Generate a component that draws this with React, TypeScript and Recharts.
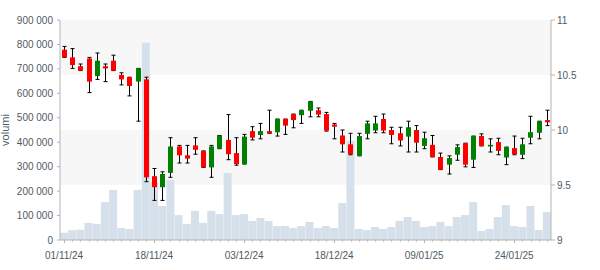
import React from 'react'
import { ComposedChart, Bar, XAxis, YAxis, CartesianGrid } from 'recharts'

// trading days shown on the category axis
const dates = [
  '01/11/24', '04/11/24', '05/11/24', '06/11/24', '07/11/24', '08/11/24',
  '11/11/24', '12/11/24', '13/11/24', '14/11/24', '15/11/24',
  '18/11/24', '19/11/24', '20/11/24', '21/11/24', '22/11/24',
  '25/11/24', '26/11/24', '27/11/24', '28/11/24', '29/11/24',
  '02/12/24', '03/12/24', '04/12/24', '05/12/24', '06/12/24',
  '09/12/24', '10/12/24', '11/12/24', '12/12/24', '13/12/24',
  '16/12/24', '17/12/24', '18/12/24', '19/12/24', '20/12/24',
  '23/12/24', '27/12/24', '30/12/24',
  '02/01/25', '03/01/25', '06/01/25', '07/01/25', '08/01/25', '09/01/25', '10/01/25',
  '13/01/25', '14/01/25', '15/01/25', '16/01/25', '17/01/25',
  '20/01/25', '21/01/25', '22/01/25', '23/01/25', '24/01/25',
  '27/01/25', '28/01/25', '29/01/25', '30/01/25',
]

const open = [
  10.73, 10.66, 10.58, 10.65, 10.49, 10.58, 10.63, 10.5, 10.48, 10.44,
  10.46, 9.58, 9.48, 9.61, 9.85, 9.77, 9.86, 9.81, 9.66, 9.83,
  9.91, 9.79, 9.69, 9.99, 9.955, 9.99, 9.98, 10.1, 10.145, 10.135,
  10.175, 10.18, 10.145, 10.05, 9.95, 9.87, 9.765, 9.965, 9.995, 10.1,
  10.0, 9.97, 9.94, 10.0, 9.855, 9.865, 9.755, 9.685, 9.775, 9.88,
  9.73, 9.945, 9.85, 9.89, 9.75, 9.835, 9.775, 9.93, 9.975, 10.09,
]
const high = [
  10.76, 10.74, 10.6, 10.66, 10.7, 10.6, 10.68, 10.52, 10.48, 10.56,
  10.48, 9.65, 9.62, 9.93, 9.86, 9.86, 9.93, 9.81, 9.86, 9.95,
  10.14, 9.93, 9.96, 10.03, 10.06, 10.18, 10.1, 10.1, 10.145, 10.18,
  10.26, 10.2, 10.16, 10.06, 10.0, 9.97, 9.97, 10.08, 10.125, 10.145,
  10.025, 10.025, 10.08, 10.04, 9.98, 9.95, 9.79, 9.765, 9.865, 9.88,
  9.945, 9.965, 9.92, 9.925, 9.845, 9.945, 9.925, 10.125, 10.08, 10.18,
]
const low = [
  10.66, 10.56, 10.54, 10.34, 10.46, 10.44, 10.54, 10.41, 10.31, 10.08,
  9.53, 9.36, 9.36, 9.57, 9.7, 9.7, 9.78, 9.66, 9.57, 9.83,
  9.73, 9.68, 9.69, 9.91, 9.92, 9.97, 9.945, 9.96, 10.02, 10.06,
  10.12, 10.12, 9.99, 9.92, 9.8, 9.775, 9.765, 9.92, 9.975, 9.975,
  9.875, 9.855, 9.8, 9.8, 9.83, 9.755, 9.64, 9.6, 9.725, 9.665,
  9.66, 9.855, 9.8, 9.775, 9.685, 9.775, 9.74, 9.875, 9.92, 10.04,
]
const close = [
  10.66, 10.59, 10.54, 10.44, 10.63, 10.56, 10.54, 10.46, 10.4, 10.56,
  9.57, 9.48, 9.6, 9.85, 9.77, 9.74, 9.82, 9.66, 9.85, 9.95,
  9.78, 9.69, 9.94, 9.93, 9.99, 9.97, 10.1, 10.04, 10.09, 10.18,
  10.26, 10.14, 9.995, 10.03, 9.87, 9.78, 9.945, 10.06, 10.06, 9.995,
  9.955, 9.905, 10.025, 9.885, 9.925, 9.755, 9.64, 9.745, 9.845, 9.685,
  9.945, 9.855, 9.865, 9.81, 9.845, 9.78, 9.87, 9.98, 10.08, 10.07,
]
const volume = [
  30000, 40000, 42000, 70000, 66000, 155000, 205000, 49000, 45000, 205000,
  807000, 238000, 139000, 245000, 102000, 66000, 119000, 70000, 119000, 106000,
  274000, 102000, 106000, 78000, 90000, 78000, 57000, 57000, 49000, 57000,
  74000, 49000, 57000, 49000, 151000, 405000, 45000, 41000, 53000, 45000,
  53000, 78000, 94000, 78000, 53000, 57000, 74000, 57000, 94000, 102000,
  155000, 37000, 45000, 94000, 143000, 57000, 53000, 139000, 41000, 115000,
]

const volTicks = [0, 100000, 200000, 300000, 400000, 500000, 600000, 700000, 800000, 900000]
const priceTicks = [9, 9.5, 10, 10.5, 11]
const labelEvery = 11

const AXIS = '#b4b4b4'
const TEXT = '#505a64'
const FONT = '"Liberation Sans", Arial, sans-serif'
const RED = '#ff0000'
const GREEN = '#008000'

const rows = dates.map((date, i) => ({
  date,
  open: open[i],
  high: high[i],
  low: low[i],
  close: close[i],
  volume: volume[i],
}))

const fmtVol = (v: number) => (v === 0 ? '0' : `${v / 1000} 000`)

function DateTick(props: any) {
  const { x, y, payload } = props
  const i = payload.index ?? props.index
  const major = i % labelEvery === 0
  const px = Math.round(x) + 0.5
  return (
    <g>
      <line x1={px} x2={px} y1={y} y2={y + (major ? 3 : 1.5)} stroke={AXIS} />
      {major && (
        <text x={x} y={y + 19} textAnchor="middle" fill={TEXT} fontSize={10} fontFamily={FONT}>
          {payload.value}
        </text>
      )}
    </g>
  )
}

function Candle(props: any) {
  const { x, y, width, height, payload } = props
  if (!payload) return null
  const { open: o, close: c, high: h, low: l } = payload
  const top = Math.min(y, y + height)
  const span = Math.abs(height)
  const k = h === l ? 0 : span / (h - l)
  const py = (v: number) => top + (h - v) * k
  const cx = Math.round(x + width / 2) + 0.5
  const up = c >= o
  const bodyTop = py(Math.max(o, c))
  const bodyH = Math.max(1.5, Math.abs(py(o) - py(c)))
  return (
    <g>
      <line x1={cx} x2={cx} y1={top} y2={top + span} stroke="#000" strokeWidth={1} />
      <line x1={cx - 2} x2={cx + 2} y1={top} y2={top} stroke="#000" strokeWidth={1} />
      <line x1={cx - 2} x2={cx + 2} y1={top + span} y2={top + span} stroke="#000" strokeWidth={1} />
      <rect x={cx - 2.5} y={bodyTop} width={5} height={bodyH} fill={up ? GREEN : RED} />
    </g>
  )
}

export default function App() {
  return (
    <div style={{ position: 'absolute', left: 0, top: 0, width: 600, height: 270, background: '#fff' }}>
      <ComposedChart
        width={600}
        height={270}
        data={rows}
        margin={{ top: 20, right: 0, bottom: 0, left: 0 }}
        barCategoryGap={0}
        barGap={0}
      >
        <CartesianGrid
          xAxisId="vol"
          yAxisId="price"
          vertical={false}
          stroke="transparent"
          horizontalFill={['#f7f7f7', '#ffffff']}
        />
        <XAxis
          xAxisId="vol"
          dataKey="date"
          interval={0}
          height={30}
          tickSize={0}
          tickMargin={0}
          tickLine={false}
          axisLine={{ stroke: AXIS }}
          tick={<DateTick />}
        />
        <XAxis xAxisId="ohlc" dataKey="date" hide height={0} />
        <YAxis
          yAxisId="vol"
          orientation="left"
          width={60}
          domain={[0, 900000]}
          ticks={volTicks}
          interval={0}
          tickFormatter={fmtVol}
          tickSize={3}
          tickMargin={4}
          axisLine={{ stroke: AXIS }}
          tickLine={{ stroke: AXIS }}
          tick={{ fill: TEXT, fontSize: 10, fontFamily: FONT }}
          label={{
            content: (p: any) => {
              const vb = p.viewBox || { x: 0, y: 20, width: 60, height: 220 }
              const lx = vb.x + 9
              const ly = vb.y + vb.height / 2
              return (
                <text
                  x={lx}
                  y={ly}
                  transform={`rotate(-90 ${lx} ${ly})`}
                  textAnchor="middle"
                  fill={TEXT}
                  fontSize={11}
                  fontFamily={FONT}
                >
                  volumi
                </text>
              )
            },
          }}
        />
        <YAxis
          yAxisId="price"
          orientation="right"
          width={49}
          domain={[9, 11]}
          ticks={priceTicks}
          interval={0}
          tickSize={4}
          tickMargin={2}
          axisLine={{ stroke: AXIS }}
          tickLine={{ stroke: AXIS }}
          tick={{ fill: TEXT, fontSize: 10, fontFamily: FONT }}
        />
        <Bar
          xAxisId="vol"
          yAxisId="vol"
          dataKey="volume"
          fill="#d6e0ea"
          isAnimationActive={false}
        />
        <Bar
          xAxisId="ohlc"
          yAxisId="price"
          dataKey={(d: any) => [d.low, d.high]}
          shape={<Candle />}
          isAnimationActive={false}
        />
      </ComposedChart>
    </div>
  )
}
